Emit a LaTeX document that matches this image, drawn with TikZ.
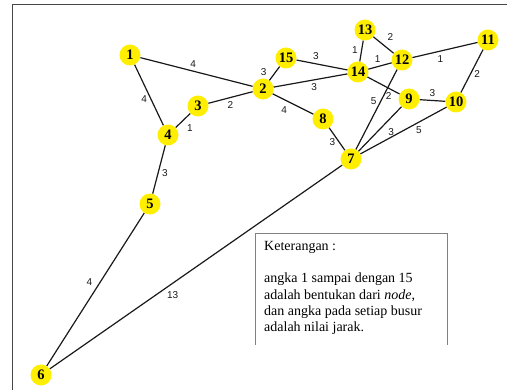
\documentclass[tikz,border=0pt]{standalone}
\usepackage{fontspec}
\setmainfont{Liberation Serif}
\newfontfamily\wtfont{Liberation Sans}
\usepackage{xcolor}
\usetikzlibrary{positioning, backgrounds}
\definecolor{nodeyellow}{RGB}{255,238,0}
\definecolor{framegray}{RGB}{70,70,70}

\begin{document}
\begin{tikzpicture}[
  x=1pt, y=-1pt,
  vtx/.style={circle, fill=nodeyellow, minimum size=21pt, inner sep=0pt, font=\fontsize{14.5}{14.5}\selectfont\bfseries},
  wt/.style={font=\wtfont\fontsize{10}{10}\selectfont, inner sep=3.5pt},
  edge/.style={line width=1.2pt, black!90},
  ket/.style={align=left, anchor=north west, inner sep=0pt, font=\fontsize{14}{16.3}\selectfont},
]
\useasboundingbox (0,0) rectangle (507,390);

% frame (top and left only)
\draw[framegray, line width=1pt] (12,390) -- (12,5) -- (507,5);

% nodes -- left part
\node[vtx] (n1) at (130,55) {1};
\node[vtx] (n2) at (263,89) {2};
\node[vtx] (n3) at (198,106) {3};
\node[vtx] (n4) at (168,135) {4};
\node[vtx] (n5) at (150,204) {5};
\node[vtx] (n6) at (41,375) {6};

% nodes -- right part
\node[vtx] (n7) at (351,159) {7};
\node[vtx] (n8) at (323,119) {8};
\node[vtx] (n9) at (409,99) {9};
\node[vtx] (n10) at (456,102) {10};
\node[vtx] (n11) at (488,40) {11};
\node[vtx] (n12) at (402,60) {12};
\node[vtx] (n13) at (365,30) {13};
\node[vtx] (n14) at (358,72) {14};
\node[vtx] (n15) at (286,58) {15};

% edges with distances
\begin{scope}[on background layer]
\draw[edge] (n1) -- node[wt, pos=0.47, above] {4} (n2);
\draw[edge] (n1) -- node[wt, pos=0.57, left] {4} (n4);
\draw[edge] (n2) -- node[wt, pos=0.5, below] {2} (n3);
\draw[edge] (n3) -- node[wt, pos=0.5, below right] {1} (n4);
\draw[edge] (n4) -- node[wt, pos=0.57, right] {3} (n5);
\draw[edge] (n5) -- node[wt, pos=0.45, left=4pt] {4} (n6);
\draw[edge] (n6) -- node[wt, pos=0.42, below=4pt] {13} (n7);
\draw[edge] (n2) -- node[wt, pos=0.6, left=5pt] {3} (n15);
\draw[edge] (n15) -- node[wt, pos=0.38, above] {3} (n14);
\draw[edge] (n2) -- node[wt, pos=0.55, below] {3} (n14);
\draw[edge] (n2) -- node[wt, pos=0.45, below left] {4} (n8);
\draw[edge] (n8) -- node[wt, pos=0.65, left] {3} (n7);
\draw[edge] (n13) -- node[wt, pos=0.45, left] {1} (n14);
\draw[edge] (n13) -- node[wt, pos=0.5, above right] {2} (n12);
\draw[edge] (n14) -- node[wt, pos=0.4, above] {1} (n12);
\draw[edge] (n12) -- node[wt, pos=0.43, below] {1} (n11);
\draw[edge] (n11) -- node[wt, pos=0.58, right] {2} (n10);
\draw[edge] (n14) -- node[wt, pos=0.66, below] {2} (n9);
\draw[edge] (n7) -- node[wt, pos=0.6, left] {5} (n12);
\draw[edge] (n9) -- node[wt, pos=0.5, above] {3} (n10);
\draw[edge] (n7) -- node[wt, pos=0.6, below right] {3} (n9);
\draw[edge] (n7) -- node[wt, pos=0.68, below] {5} (n10);
\end{scope}

% legend box (bottom edge missing in the picture)
\draw[gray, line width=0.8pt] (255,345) -- (255,233) -- (447,233) -- (447,345);
\node[ket] (ket) at (264,241) {Keterangan :\\[16.3pt]
angka 1 sampai dengan 15\\
adalah bentukan dari \textit{node},\\
dan angka pada setiap busur\\
adalah nilai jarak.};

\end{tikzpicture}
\end{document}
